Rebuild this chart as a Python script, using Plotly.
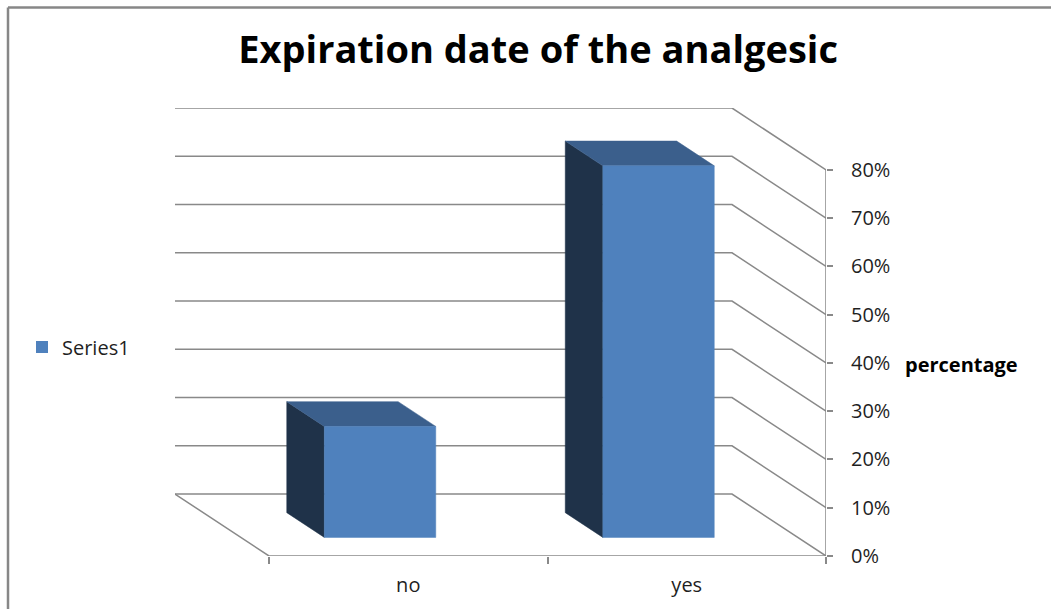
import plotly.graph_objects as go

# ---- data ----
categories = ["no", "yes"]
values = [23, 77]                      # percent
y_ticks = [0, 10, 20, 30, 40, 50, 60, 70, 80]
y_tick_labels = [f"{v}%" for v in y_ticks]
series_name = "Series1"
title_text = "Expiration date of the analgesic"
value_axis_title = "percentage"

# ---- 3D oblique projection constants ----
DX = -0.3375      # depth shift, in category units
DY = 12.84        # depth shift, in percent units
Z_FRONT, Z_BACK = 0.3, 0.7
BAR_W = 0.4
YMAX = y_ticks[-1]
NCAT = len(categories)

FRONT = "#4F81BD"
TOP = "#3B5F8C"
SIDE = "#1F3249"
GRID = "#898989"
FONT = "Open Sans"


def proj(x, y, z):
    return x + z * DX, y + z * DY


fig = go.Figure()

# walls / gridlines
gx, gy = [], []
for L in y_ticks:
    x0, yb = proj(0, L, 1)
    x1, _ = proj(NCAT, L, 1)
    gx += [x0, x1, NCAT, None]
    gy += [yb, yb, L, None]
lx, ly = proj(0, 0, 1)
gx += [lx, 0, NCAT, None, NCAT, NCAT]
gy += [ly, 0, 0, None, 0, YMAX]
fig.add_trace(go.Scatter(x=gx, y=gy, mode="lines",
                         line=dict(color=GRID, width=1.5),
                         hoverinfo="skip", showlegend=False))

# bars
for i, v in enumerate(values):
    c = i + 0.5
    xl, xr = c - BAR_W / 2, c + BAR_W / 2
    faces = [
        (SIDE, [(xl, 0, Z_FRONT), (xl, v, Z_FRONT), (xl, v, Z_BACK), (xl, 0, Z_BACK)]),
        (TOP, [(xl, v, Z_FRONT), (xr, v, Z_FRONT), (xr, v, Z_BACK), (xl, v, Z_BACK)]),
        (FRONT, [(xl, 0, Z_FRONT), (xr, 0, Z_FRONT), (xr, v, Z_FRONT), (xl, v, Z_FRONT)]),
    ]
    for col, pts in faces:
        px = [proj(*p)[0] for p in pts]
        py = [proj(*p)[1] for p in pts]
        fig.add_trace(go.Scatter(x=px + [px[0]], y=py + [py[0]], mode="lines",
                                 fill="toself", fillcolor=col,
                                 line=dict(color=col, width=0.5),
                                 name=categories[i], hoverinfo="skip",
                                 showlegend=False))

# legend entry
fig.add_trace(go.Scatter(x=[None], y=[None], mode="markers", name=series_name,
                         marker=dict(symbol="square", size=12, color=FRONT)))

fig.update_layout(
    width=1051, height=609,
    margin=dict(l=175, r=225, t=108, b=53),
    paper_bgcolor="white", plot_bgcolor="white",
    font=dict(family=FONT, color="#1f1f1f", size=20),
    title=dict(text=f"<b>{title_text}</b>", font=dict(family=FONT, size=38, color="black"),
               x=0.512, xanchor="center", y=1 - 50 / 609, yanchor="middle",
               xref="container", yref="container"),
    showlegend=True,
    legend=dict(x=22 / 1051, y=1 - 347 / 609, xref="container", yref="container",
                xanchor="left", yanchor="middle", font=dict(size=20),
                bgcolor="rgba(0,0,0,0)"),
    xaxis=dict(range=[DX, NCAT], showgrid=False, zeroline=False, showline=False,
               tickmode="array", tickvals=[i + 0.5 for i in range(NCAT)],
               ticktext=categories, ticks="", ticklabelstandoff=15,
               minor=dict(tickmode="array", tickvals=list(range(NCAT + 1)),
                          ticks="outside", ticklen=7, tickcolor=GRID, tickwidth=1.5),
               fixedrange=True),
    yaxis=dict(range=[0, YMAX + DY], side="right", showgrid=False, zeroline=False,
               showline=False, tickmode="array", tickvals=y_ticks,
               ticktext=y_tick_labels, ticks="outside", ticklen=6,
               tickcolor=GRID, tickwidth=1.5, ticklabelstandoff=14,
               fixedrange=True),
    annotations=[dict(text=f"<b>{value_axis_title}</b>", xref="paper", yref="paper",
                      x=(903 - 175) / 651, y=(556 - 364) / 448,
                      xanchor="left", yanchor="middle", showarrow=False,
                      font=dict(size=20, color="black"))],
    shapes=[dict(type="line", xref="paper", yref="paper",
                 x0=(8 - 175) / 651, x1=(8 - 175) / 651,
                 y0=(556 - 7.5) / 448, y1=(556 - 620) / 448,
                 line=dict(color="#878787", width=2.5)),
            dict(type="line", xref="paper", yref="paper",
                 x0=(8 - 175) / 651, x1=(1060 - 175) / 651,
                 y0=(556 - 7.5) / 448, y1=(556 - 7.5) / 448,
                 line=dict(color="#878787", width=2.5))],
)

fig.write_html("out.html")
